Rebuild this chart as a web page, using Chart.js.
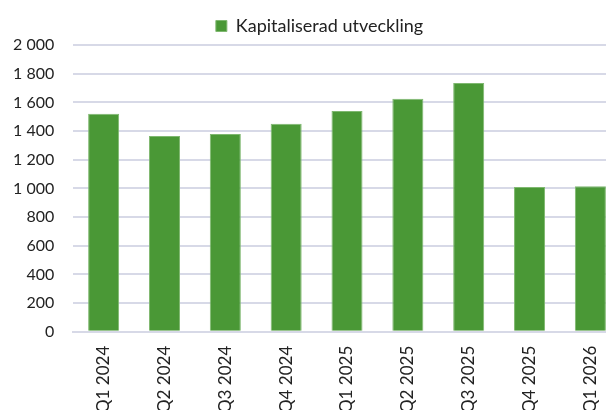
<!DOCTYPE html>
<html lang="sv">
<head>
  <meta charset="UTF-8" />
  <title>Kapitaliserad utveckling</title>
  <script src="https://cdn.jsdelivr.net/npm/chart.js"></script>
  <style>
    html, body {
      margin: 0;
      padding: 0;
      background: #fff;
      overflow: hidden;
    }
    .wrap {
      width: 625px;
      height: 410px;
    }
  </style>
</head>
<body>

<div class="wrap">
  <canvas id="chart" width="625" height="410"></canvas>
</div>

<script>
  const quarters = ["Q1 2024", "Q2 2024", "Q3 2024", "Q4 2024", "Q1 2025", "Q2 2025", "Q3 2025", "Q4 2025", "Q1 2026"];
  const capitalised = [1520, 1365, 1380, 1450, 1540, 1625, 1735, 1010, 1015];
  const seriesName = "Kapitaliserad utveckling";

  const green = "#4a9836";
  const gridColor = "#d7d9e7";
  const font = "Lato";

  function fmt(v) {
    return String(v).replace(/\B(?=(\d{3})+(?!\d))/g, " ");
  }

  // legend sits a little right of the canvas centre in the original
  const nudgeLegend = {
    id: "nudgeLegend",
    afterLayout(chart) {
      chart.legend.left += 12;
      chart.legend.right += 12;
    }
  };

  const ctx = document.getElementById("chart").getContext("2d");
  new Chart(ctx, {
    type: "bar",
    data: {
      labels: quarters,
      datasets: [{
        label: seriesName,
        data: capitalised,
        backgroundColor: green,
        borderColor: "#7fb870",
        borderWidth: 1,
        categoryPercentage: 0.51,
        barPercentage: 1
      }]
    },
    plugins: [nudgeLegend],
    options: {
      responsive: false,
      animation: false,
      layout: { padding: { left: -6, right: 4, top: 12, bottom: -17 } },
      plugins: {
        tooltip: { enabled: false },
        legend: {
          display: true,
          position: "top",
          labels: {
            boxWidth: 11,
            boxHeight: 11,
            padding: 5,
            color: "#222",
            font: { family: font, size: 18 }
          }
        }
      },
      scales: {
        x: {
          grid: { display: false, drawTicks: false },
          border: { display: true, color: gridColor, width: 2 },
          ticks: {
            minRotation: 90,
            maxRotation: 90,
            padding: 14,
            color: "#222",
            font: { family: font, size: 17 }
          }
        },
        y: {
          min: 0,
          max: 2000,
          grid: { color: gridColor, lineWidth: 2, drawTicks: false },
          border: { display: false },
          ticks: {
            stepSize: 200,
            padding: 19,
            color: "#222",
            font: { family: font, size: 16 },
            callback: v => fmt(v)
          }
        }
      }
    }
  });
</script>

</body>
</html>
